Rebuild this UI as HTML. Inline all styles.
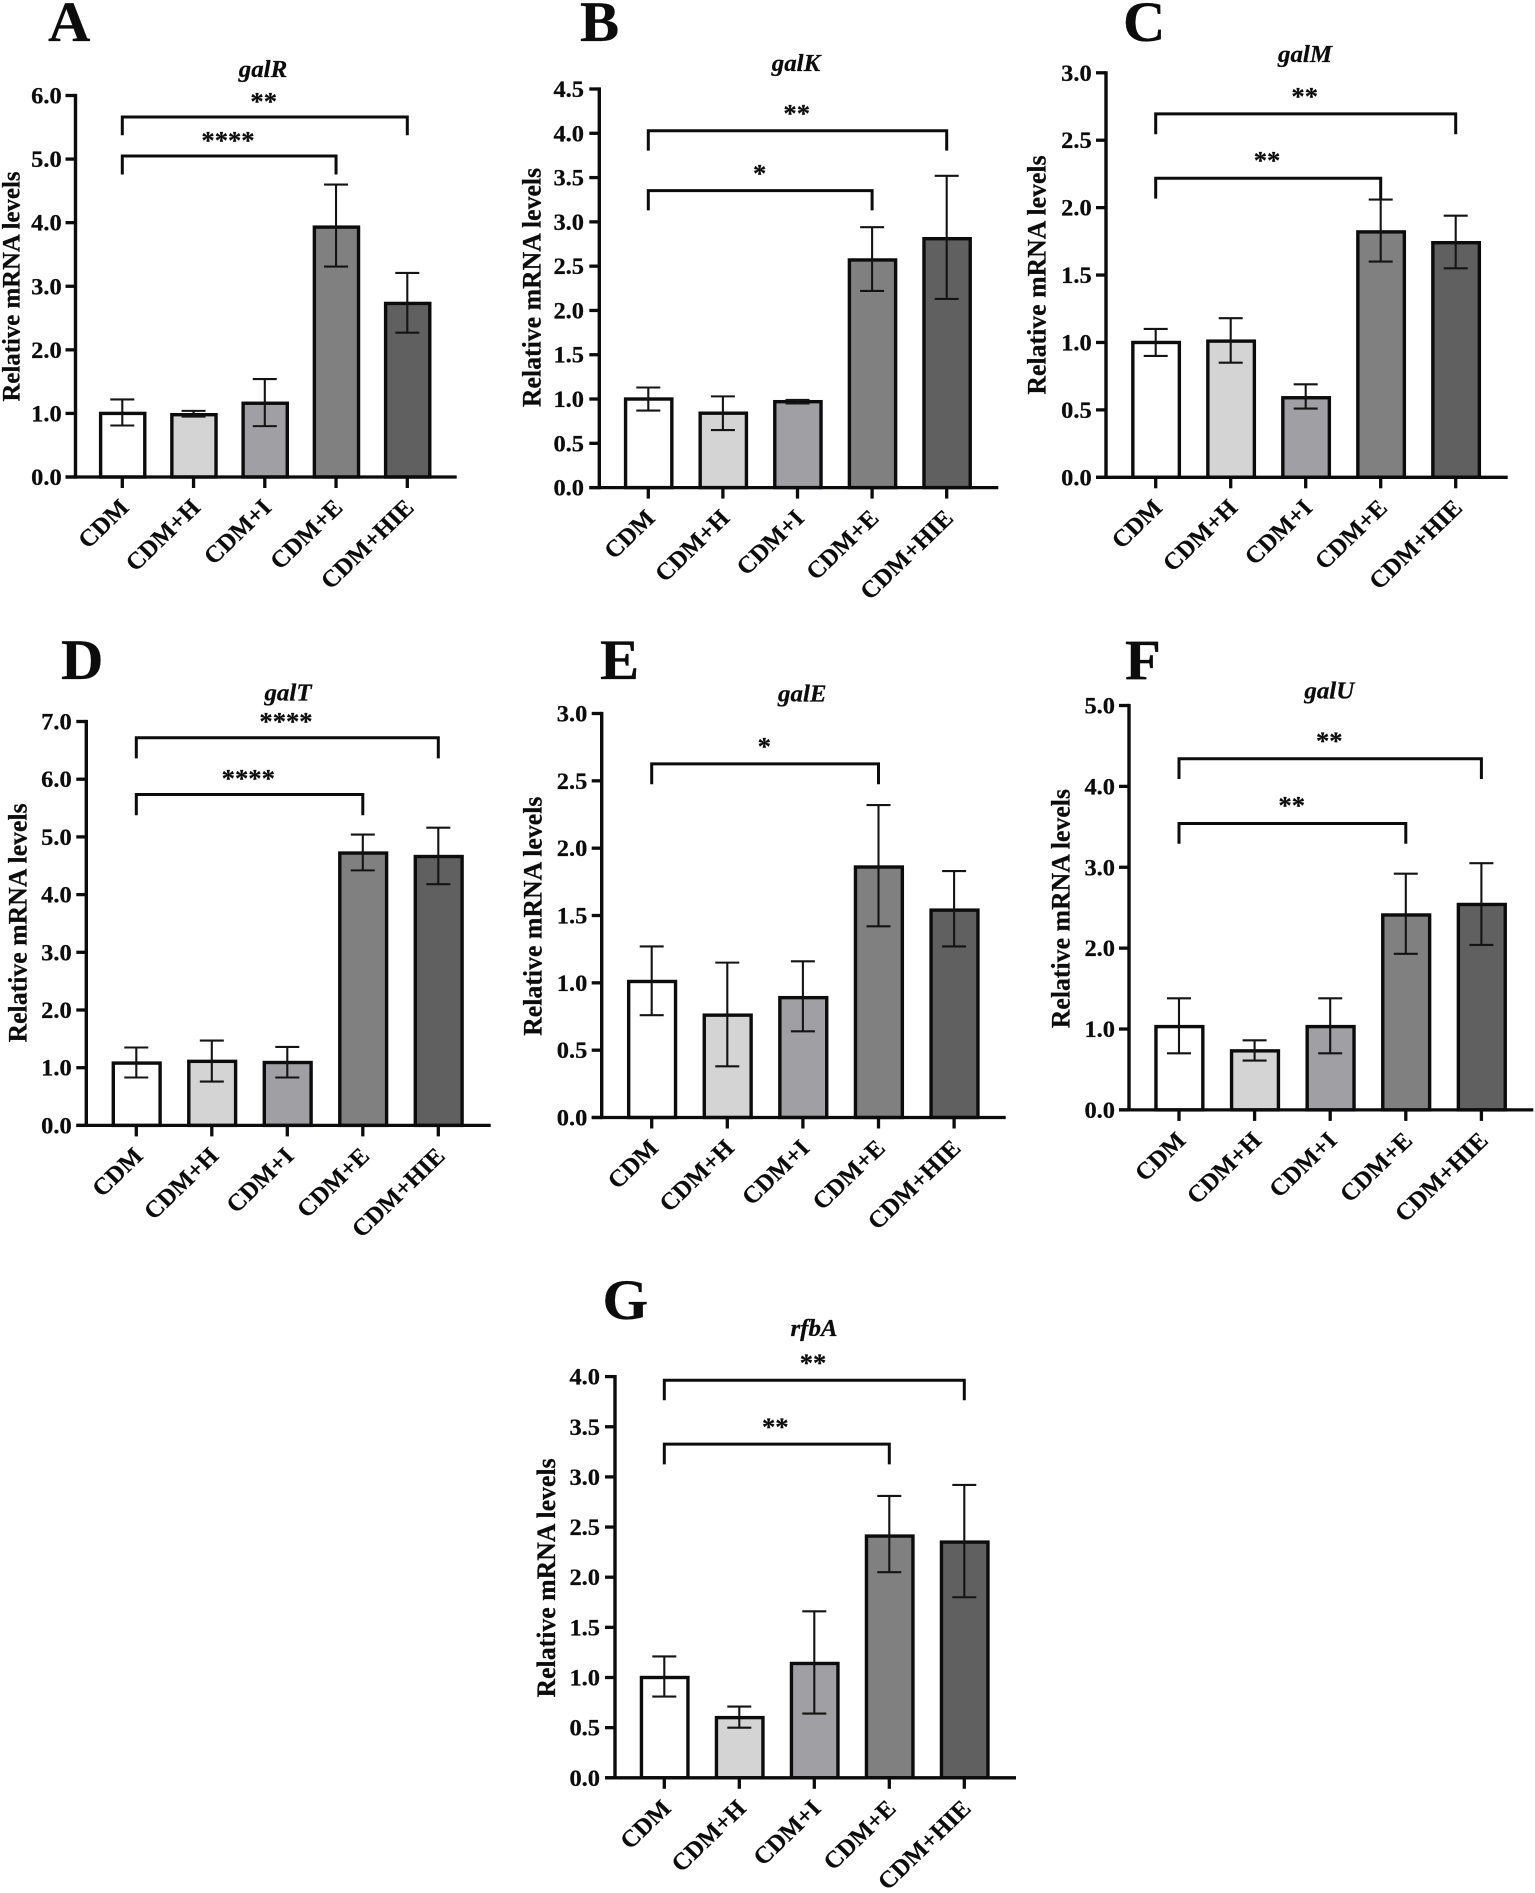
<!DOCTYPE html>
<html lang="en">
<head>
<meta charset="utf-8">
<title>Relative mRNA levels panels</title>
<style>
html,body{margin:0;padding:0;background:#fff;}
svg{display:block;filter:blur(0.35px);}
text{font-family:"Liberation Serif","DejaVu Serif",serif;font-weight:bold;fill:#0c0c0c;stroke:#0c0c0c;stroke-width:0.25px;}
</style>
</head>
<body>
<svg id="figure" xmlns="http://www.w3.org/2000/svg" width="1535" height="1893" viewBox="0 0 1535 1893">
<rect x="0" y="0" width="1535" height="1893" fill="#ffffff"/>
</svg>
<script>
const categories = ["CDM", "CDM+H", "CDM+I", "CDM+E", "CDM+HIE"];
const barFills = ["#ffffff", "#d4d4d4", "#a0a0a4", "#808080", "#606060"];

const galRMeans = [1.0, 0.98, 1.16, 3.93, 2.73];
const galRHigh = [1.22, 1.04, 1.54, 4.6, 3.21];
const galRLow = [0.81, 0.95, 0.8, 3.31, 2.27];
const galRTicks = ["0.0", "1.0", "2.0", "3.0", "4.0", "5.0", "6.0"];

const galKMeans = [1.0, 0.84, 0.97, 2.57, 2.81];
const galKHigh = [1.13, 1.03, 0.99, 2.94, 3.52];
const galKLow = [0.87, 0.65, 0.95, 2.22, 2.13];
const galKTicks = ["0.0", "0.5", "1.0", "1.5", "2.0", "2.5", "3.0", "3.5", "4.0", "4.5"];

const galMMeans = [1.0, 1.01, 0.59, 1.82, 1.74];
const galMHigh = [1.1, 1.18, 0.69, 2.06, 1.94];
const galMLow = [0.9, 0.85, 0.51, 1.6, 1.55];
const galMTicks = ["0.0", "0.5", "1.0", "1.5", "2.0", "2.5", "3.0"];

const galTMeans = [1.08, 1.11, 1.09, 4.72, 4.66];
const galTHigh = [1.35, 1.47, 1.36, 5.04, 5.16];
const galTLow = [0.83, 0.76, 0.83, 4.42, 4.18];
const galTTicks = ["0.0", "1.0", "2.0", "3.0", "4.0", "5.0", "6.0", "7.0"];

const galEMeans = [1.01, 0.76, 0.89, 1.86, 1.54];
const galEHigh = [1.27, 1.15, 1.16, 2.32, 1.83];
const galELow = [0.76, 0.38, 0.64, 1.42, 1.27];
const galETicks = ["0.0", "0.5", "1.0", "1.5", "2.0", "2.5", "3.0"];

const galUMeans = [1.03, 0.73, 1.03, 2.41, 2.54];
const galUHigh = [1.38, 0.86, 1.38, 2.92, 3.05];
const galULow = [0.7, 0.61, 0.7, 1.93, 2.04];
const galUTicks = ["0.0", "1.0", "2.0", "3.0", "4.0", "5.0"];

const rfbAMeans = [1.0, 0.6, 1.14, 2.41, 2.35];
const rfbAHigh = [1.21, 0.71, 1.66, 2.81, 2.92];
const rfbALow = [0.81, 0.5, 0.64, 2.05, 1.8];
const rfbATicks = ["0.0", "0.5", "1.0", "1.5", "2.0", "2.5", "3.0", "3.5", "4.0"];

const galRSignificance = ["****", "**"];
const galKSignificance = ["*", "**"];
const galMSignificance = ["**", "**"];
const galTSignificance = ["****", "****"];
const galESignificance = ["*"];
const galUSignificance = ["**", "**"];
const rfbASignificance = ["**", "**"];

const H_STRETCH = 1.04;
const NS = "http://www.w3.org/2000/svg";
const figure = document.getElementById("figure");

function make(tag, parent, attrs) {
  const node = document.createElementNS(NS, tag);
  for (const key in attrs) node.setAttribute(key, attrs[key]);
  parent.appendChild(node);
  return node;
}
function stretchedText(parent, str, x, y, size, anchor, rotation, sx) {
  const t = make("text", parent, {
    "font-size": size,
    "text-anchor": anchor,
    transform: "translate(" + x + "," + y + ") scale(" + sx + ",1) rotate(" + rotation + ")"
  });
  t.textContent = str;
  return t;
}

const panels = [
  {id:"a", letter:"A", gene:"galR", means:galRMeans, high:galRHigh, low:galRLow, ticks:galRTicks, stars:galRSignificance,
   axisX:75.5, base:477, top:95.5, firstCat:122.3, step:71.25, right:456.7, tickRight:61.7, yLabelSize:24.8,
   yLabelX:19.3, yLabelY:286.5, titleX:263, titleY:77, letterX:48, letterY:41,
   brackets:[{to:3, y:156, drop:174.5, starX:228, starY:136},{to:4, y:117, drop:135.3, starX:263.7, starY:97}]},
  {id:"b", letter:"B", gene:"galK", means:galKMeans, high:galKHigh, low:galKLow, ticks:galKTicks, stars:galKSignificance,
   axisX:599.3, base:487.6, top:89, firstCat:648.3, step:74.6, right:998.3, tickRight:584, yLabelSize:25.8,
   yLabelX:540.7, yLabelY:287.5, titleX:796, titleY:71, letterX:580, letterY:41,
   brackets:[{to:3, y:190.6, drop:210.4, starX:759.7, starY:169.4},{to:4, y:130.8, drop:150.6, starX:796.7, starY:109.2}]},
  {id:"c", letter:"C", gene:"galM", means:galMMeans, high:galMHigh, low:galMLow, ticks:galMTicks, stars:galMSignificance,
   axisX:1106, base:477.3, top:72.8, firstCat:1155.7, step:75, right:1507.7, tickRight:1091.7, yLabelSize:25.8,
   yLabelX:1045.7, yLabelY:275, titleX:1305, titleY:62, letterX:1123, letterY:41,
   brackets:[{to:3, y:178.2, drop:198.6, starX:1267, starY:156.4},{to:4, y:113.9, drop:134.2, starX:1304.7, starY:92}]},
  {id:"d", letter:"D", gene:"galT", means:galTMeans, high:galTHigh, low:galTLow, ticks:galTTicks, stars:galTSignificance,
   axisX:86.3, base:1125.4, top:721.5, firstCat:136.3, step:75.5, right:490.7, tickRight:71.7, yLabelSize:25.8,
   yLabelX:26.7, yLabelY:922.9, titleX:288, titleY:700.7, letterX:61, letterY:678.9,
   brackets:[{to:3, y:794.5, drop:815.2, starX:248.3, starY:774.3},{to:4, y:737.7, drop:758.4, starX:286, starY:717.4}]},
  {id:"e", letter:"E", gene:"galE", means:galEMeans, high:galEHigh, low:galELow, ticks:galETicks, stars:galESignificance,
   axisX:601.7, base:1117.5, top:713.5, firstCat:651.7, step:75.6, right:1005.7, tickRight:587.3, yLabelSize:25.8,
   yLabelX:541.7, yLabelY:916.2, titleX:802.3, titleY:701.5, letterX:600, letterY:678.9,
   brackets:[{to:3, y:763.9, drop:784.2, starX:764.3, starY:742.1}]},
  {id:"f", letter:"F", gene:"galU", means:galUMeans, high:galUHigh, low:galULow, ticks:galUTicks, stars:galUSignificance,
   axisX:1129, base:1109.9, top:705.5, firstCat:1179, step:75.6, right:1533.3, tickRight:1115, yLabelSize:25.8,
   yLabelX:1069.3, yLabelY:908.6, titleX:1329.3, titleY:698.3, letterX:1125, letterY:678.9,
   brackets:[{to:3, y:823.5, drop:843.8, starX:1291.7, starY:801.2},{to:4, y:758.8, drop:779, starX:1329.3, starY:736.5}]},
  {id:"g", letter:"G", gene:"rfbA", means:rfbAMeans, high:rfbAHigh, low:rfbALow, ticks:rfbATicks, stars:rfbASignificance,
   axisX:615, base:1777.8, top:1376.6, firstCat:664.3, step:75, right:1016, tickRight:600, yLabelSize:25.8,
   yLabelX:555, yLabelY:1577.9, titleX:814, titleY:1335.9, letterX:602.5, letterY:1319.1,
   brackets:[{to:3, y:1444.1, drop:1464.4, starX:775.3, starY:1422.5},{to:4, y:1380.2, drop:1400.2, starX:813, starY:1358.7}]}
];

function drawPanel(p) {
  const g = make("g", figure, {});
  
  

  const maxValue = parseFloat(p.ticks[p.ticks.length - 1]);
  const yScale = function (v) { return p.base - (v / maxValue) * (p.base - p.top); };
  const xScale = function (i) { return p.firstCat + i * p.step; };
  const barWidth = p.step * 0.62;

  const letter = stretchedText(g, p.letter, p.letterX, p.letterY, 57, "start", 0, 1.03);
  
  

  const title = stretchedText(g, p.gene, p.titleX, p.titleY, 24, "middle", 0, H_STRETCH);
  title.setAttribute('font-style', 'italic');
  
  

  const yTitle = stretchedText(g, "Relative mRNA levels", p.yLabelX, p.yLabelY, p.yLabelSize, "middle", -90, H_STRETCH);
  
  

  p.means.forEach(function (mean, i) {
    const bar = make("rect", g, {
      x: xScale(i) + 0.4 - barWidth / 2,
      y: yScale(mean),
      width: barWidth,
      height: yScale(0) - yScale(mean),
      fill: barFills[i],
      stroke: "#0c0c0c",
      "stroke-width": 3.4
    });
    
    

    const errorPath = "M" + (xScale(i) - 12) + " " + yScale(p.high[i]) + "H" + (xScale(i) + 12) +
      "M" + xScale(i) + " " + yScale(p.high[i]) + "V" + yScale(p.low[i]) +
      "M" + (xScale(i) - 12) + " " + yScale(p.low[i]) + "H" + (xScale(i) + 12);
    const errorBar = make("path", g, {d: errorPath, fill: "none", stroke: "#141414", "stroke-width": 2.1});
    
    
  });

  const yAxis = make("line", g, {x1: p.axisX, x2: p.axisX, y1: p.top - 1.6, y2: p.base + 1.6, stroke: "#0c0c0c", "stroke-width": 3.4});
  
  

  const xAxis = make("line", g, {x1: p.axisX - 10, x2: p.right, y1: p.base, y2: p.base, stroke: "#0c0c0c", "stroke-width": 3.3});
  
  

  p.ticks.forEach(function (label) {
    const v = parseFloat(label);
    const tick = make("line", g, {x1: p.axisX - 10, x2: p.axisX, y1: yScale(v), y2: yScale(v), stroke: "#0c0c0c", "stroke-width": 3.3});
    
    

    const tickText = stretchedText(g, label, p.tickRight, yScale(v) + 8, 23.5, "end", 0, H_STRETCH);
    
    
  });

  categories.forEach(function (name, i) {
    const tick = make("line", g, {x1: xScale(i), x2: xScale(i), y1: p.base, y2: p.base + 11, stroke: "#0c0c0c", "stroke-width": 3.3});
    
    

    const catText = stretchedText(g, name, xScale(i) + 8, p.base + 32, 24, "end", -45, H_STRETCH);
    
    
  });

  p.brackets.forEach(function (b, k) {
    const startX = xScale(0);
    const endX = xScale(b.to);
    const bracket = make("path", g, {
      d: "M" + startX + " " + b.drop + "V" + b.y + "H" + endX + "V" + b.drop,
      fill: "none", stroke: "#0c0c0c", "stroke-width": 3
    });
    
    

    const star = stretchedText(g, p.stars[k], b.starX, b.starY + 12.3, 25.6, "middle", 0, H_STRETCH);
    
    
  });
}
panels.forEach(drawPanel);
</script>
</body>
</html>
